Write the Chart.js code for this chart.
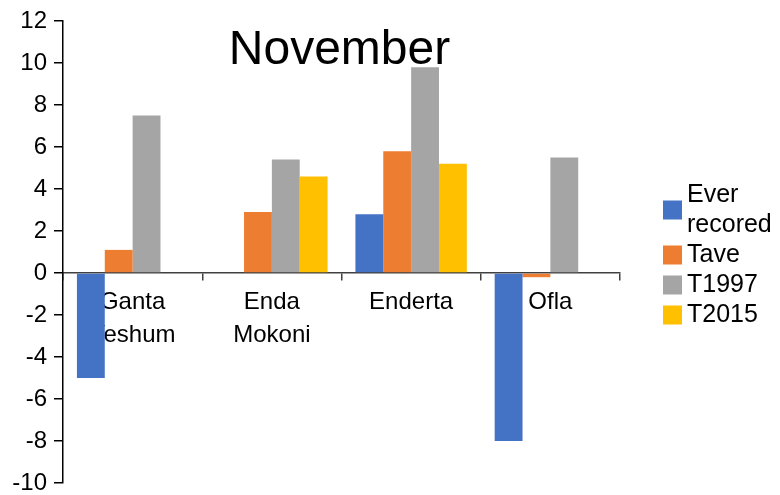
<!DOCTYPE html>
<html>
<head>
	<title>November</title>
	<meta charset="utf-8">
	<script src="https://cdn.jsdelivr.net/npm/chart.js@4/dist/chart.umd.min.js"></script>
	<style>
		body { margin: 0; background: #fff; }
		#wrap { width: 780px; height: 495px; }
	</style>
</head>
<body>
	<div id="wrap">
		<canvas id="grafico" width="780" height="495"></canvas>
	</div>

	<script>
		// datos
		var estaciones = [["Ganta", "Yeshum"], ["Enda", "Mokoni"], "Enderta", "Ofla"];
		var series = ["Ever recored", "Tave", "T1997", "T2015"];
		var leyenda = [["Ever", "recored"], ["Tave"], ["T1997"], ["T2015"]];
		var everRecored = [-5, 0, 2.8, -8];
		var tave = [1.1, 2.9, 5.8, -0.2];
		var t1997 = [7.5, 5.4, 9.8, 5.5];
		var t2015 = [0, 4.6, 5.2, 0];
		var colores = ["#4472C4", "#ED7D31", "#A5A5A5", "#FFC000"];
		var ticksY = { min: -10, max: 12, paso: 2 };
		var titulo = "November";

		var FUENTE = "'Liberation Sans', Arial, sans-serif";
		Chart.defaults.font.family = FUENTE;
		Chart.defaults.color = "#000";

		// titulo dentro del area del grafico
		var tituloPlugin = {
			id: "tituloDentro",
			afterDraw: function (chart) {
				var ctx = chart.ctx, a = chart.chartArea;
				ctx.save();
				ctx.font = "48px " + FUENTE;
				ctx.fillStyle = "#000";
				ctx.textAlign = "center";
				ctx.textBaseline = "alphabetic";
				ctx.fillText(titulo, (a.left + a.right) / 2 - 2, 64);
				ctx.restore();
			}
		};

		// leyenda a la derecha, con texto en dos lineas
		var leyendaPlugin = {
			id: "leyendaDerecha",
			afterDraw: function (chart) {
				var ctx = chart.ctx, a = chart.chartArea;
				var x = a.right + 43, y = 195, linea = 30, caja = 19;
				ctx.save();
				ctx.font = "25px " + FUENTE;
				ctx.textBaseline = "middle";
				chart.data.datasets.forEach(function (ds, i) {
					var lineas = leyenda[i];
					var centro = y + (lineas.length - 1) * linea / 2;
					ctx.fillStyle = ds.backgroundColor;
					ctx.fillRect(x, centro - caja / 2, caja, caja);
					ctx.fillStyle = "#000";
					lineas.forEach(function (t, j) {
						ctx.fillText(t, x + caja + 5, y + j * linea);
					});
					y += lineas.length * linea;
				});
				ctx.restore();
			}
		};

		var valores = [everRecored, tave, t1997, t2015];
		var datosBarra = {
			labels: estaciones,
			datasets: series.map(function (s, i) {
				return {
					label: s,
					data: valores[i],
					backgroundColor: colores[i],
					borderWidth: 0,
					categoryPercentage: 0.8,
					barPercentage: 1
				};
			})
		};

		var canvas = document.getElementById("grafico").getContext("2d");
		window.bar = new Chart(canvas, {
			type: "bar",
			data: datosBarra,
			plugins: [tituloPlugin, leyendaPlugin],
			options: {
				responsive: false,
				animation: false,
				layout: { padding: { left: 0, right: 160, top: 21, bottom: 12 } },
				plugins: {
					legend: { display: false },
					title: { display: false },
					tooltip: { enabled: false }
				},
				scales: {
					x: {
						position: { y: 0 },
						grid: {
							offset: true,
							drawOnChartArea: false,
							tickLength: 7,
							color: "#404040",
							lineWidth: 1.5
						},
						border: { display: true, color: "#404040", width: 1.5 },
						ticks: {
							font: { size: 24, lineHeight: 1.38 },
							color: "#000",
							padding: 6,
							maxRotation: 0,
							autoSkip: false
						}
					},
					y: {
						min: ticksY.min,
						max: ticksY.max,
						afterFit: function (scale) {
							scale.width = 63;
							scale.paddingTop = 0;
							scale.paddingBottom = 0;
						},
						grid: {
							drawOnChartArea: false,
							tickLength: 9,
							color: "#000",
							lineWidth: 1.5
						},
						border: { display: true, color: "#000", width: 1.5 },
						ticks: {
							stepSize: ticksY.paso,
							font: { size: 24 },
							color: "#000",
							padding: 7
						}
					}
				}
			}
		});
	</script>
</body>
</html>
